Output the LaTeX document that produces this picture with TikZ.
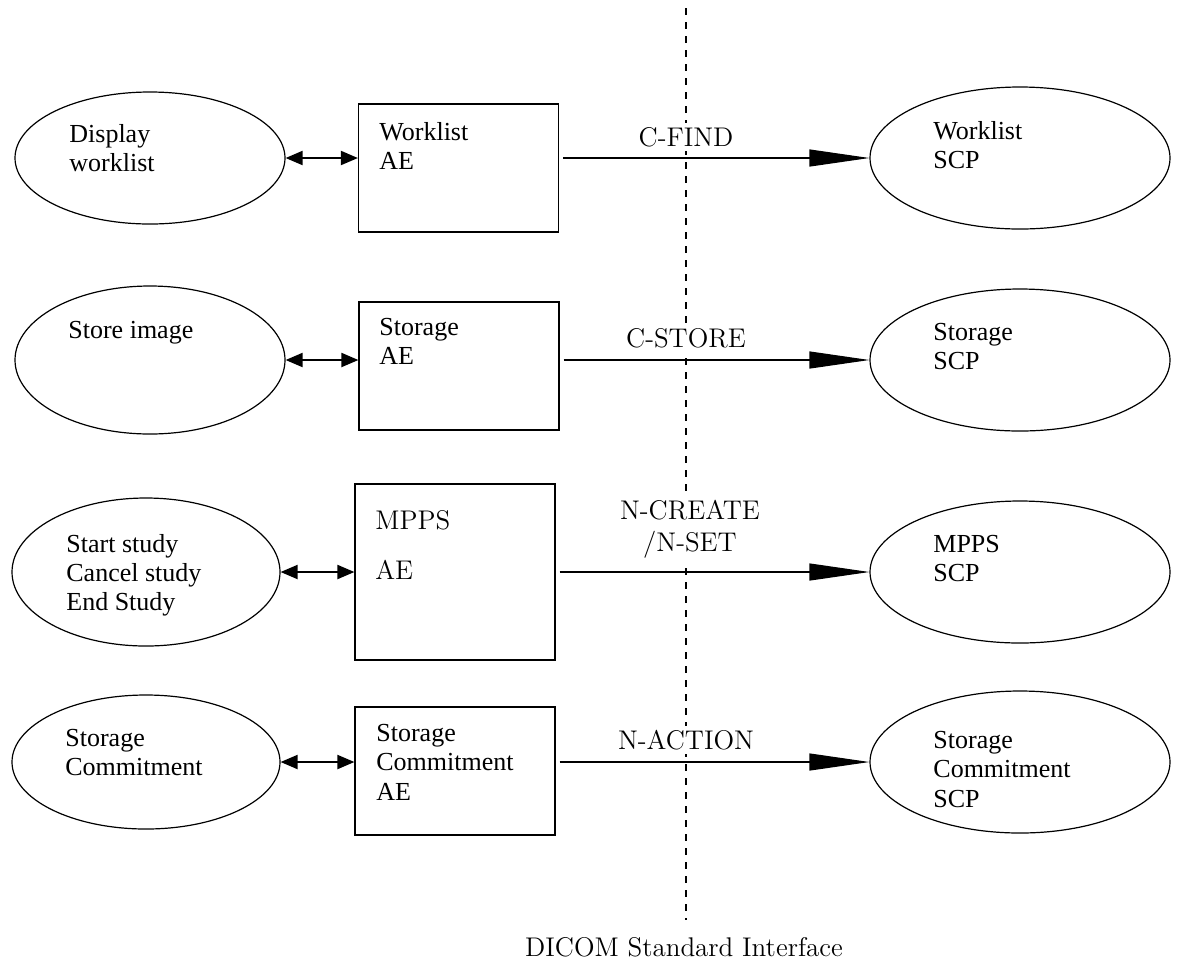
\documentclass[tikz,border=0pt]{standalone}
\usepackage{fontspec}
\newfontfamily\timesfont{Liberation Serif}
\usetikzlibrary{arrows.meta,shapes.geometric,positioning}

\begin{document}
\begin{tikzpicture}[x=0.5pt,y=-0.5pt,
  usecase/.style={draw,ellipse,line width=0.6pt,inner sep=0pt},
  aebox/.style={draw,rectangle,line width=0.6pt,inner sep=0pt,minimum width=100pt},
  txt/.style={anchor=north west,inner sep=0pt,align=left,font=\timesfont\fontsize{13}{14.6}\selectfont},
  msg/.style={fill=white,inner sep=2pt,align=center,font=\fontsize{13.5}{16}\selectfont},
  link/.style={{Triangle[length=8.5pt,width=7pt]}-{Triangle[length=8.5pt,width=7pt]},line width=1pt},
  req/.style={-{Triangle[length=30pt,width=8.5pt]},line width=0.6pt,shorten <=2pt}]
  \useasboundingbox (0,0) rectangle (1193,966);

  % interface line
  \coordinate (top) at (686,8);
  \coordinate (bot) at (686,920);
  \draw[line width=0.8pt,dash pattern=on 3.5pt off 3.5pt] (top) -- (bot);
  \node[font=\fontsize{13.5}{16}\selectfont] (dicom) at (684,947) {DICOM Standard Interface};

  % worklist
  \node[usecase,minimum width=135pt,minimum height=66pt] (disp) at (150,158) {};
  \node[aebox,minimum height=64pt] (wlae) at (458.5,168) {};
  \node[usecase,minimum width=150pt,minimum height=71pt] (wlscp) at (1020,158) {};
  \node[txt] (dispT) at (69,124) {Display\\worklist};
  \node[txt] (wlaeT) at (379,122) {Worklist\\AE};
  \node[txt] (wlscpT) at (933,121) {Worklist\\SCP};
  \draw[link] (disp.east) -- (disp.east -| wlae.west);
  \draw[req] (wlae.east |- wlscp.west) -- (wlscp.west);
  \node[msg] (cfind) at (686,137) {C-FIND};

  % storage
  \node[usecase,minimum width=135pt,minimum height=74pt] (store) at (150,360) {};
  \node[aebox,minimum height=64pt] (stae) at (459,366) {};
  \node[usecase,minimum width=150pt,minimum height=71pt] (stscp) at (1020,360) {};
  \node[txt] (storeT) at (68,321) {Store image};
  \node[txt] (staeT) at (379,318) {Storage\\AE};
  \node[txt] (stscpT) at (933,323) {Storage\\SCP};
  \draw[link] (store.east) -- (store.east -| stae.west);
  \draw[req] (stae.east |- stscp.west) -- (stscp.west);
  \node[msg] (cstore) at (686,338) {C-STORE};

  % mpps
  \node[usecase,minimum width=134pt,minimum height=74pt] (study) at (146,572) {};
  \node[aebox,minimum height=88pt] (mpae) at (455,572) {};
  \node[usecase,minimum width=150pt,minimum height=71pt] (mpscp) at (1020,572) {};
  \node[txt] (studyT) at (66,534) {Start study\\Cancel study\\End Study};
  \node[anchor=north west,inner sep=0pt,align=left,font=\fontsize{13.5}{25}\selectfont] (mpaeT) at (375,510) {MPPS\\AE};
  \node[txt] (mpscpT) at (933,535) {MPPS\\SCP};
  \draw[link] (study.east) -- (mpae.west);
  \draw[req] (mpae.east) -- (mpscp.west);
  \node[msg] (ncreate) at (690,529) {N-CREATE\\/N-SET};

  % storage commitment
  \node[usecase,minimum width=134pt,minimum height=67pt] (commit) at (146,762) {};
  \node[aebox,minimum height=64pt] (cmae) at (455,771) {};
  \node[usecase,minimum width=150pt,minimum height=71pt] (cmscp) at (1020,762) {};
  \node[txt] (commitT) at (65,729) {Storage\\Commitment};
  \node[txt] (cmaeT) at (376,724) {Storage\\Commitment\\AE};
  \node[txt] (cmscpT) at (933,731) {Storage\\Commitment\\SCP};
  \draw[link] (commit.east) -- (commit.east -| cmae.west);
  \draw[req] (cmae.east |- cmscp.west) -- (cmscp.west);
  \node[msg] (naction) at (686,740) {N-ACTION};
\end{tikzpicture}
\end{document}
